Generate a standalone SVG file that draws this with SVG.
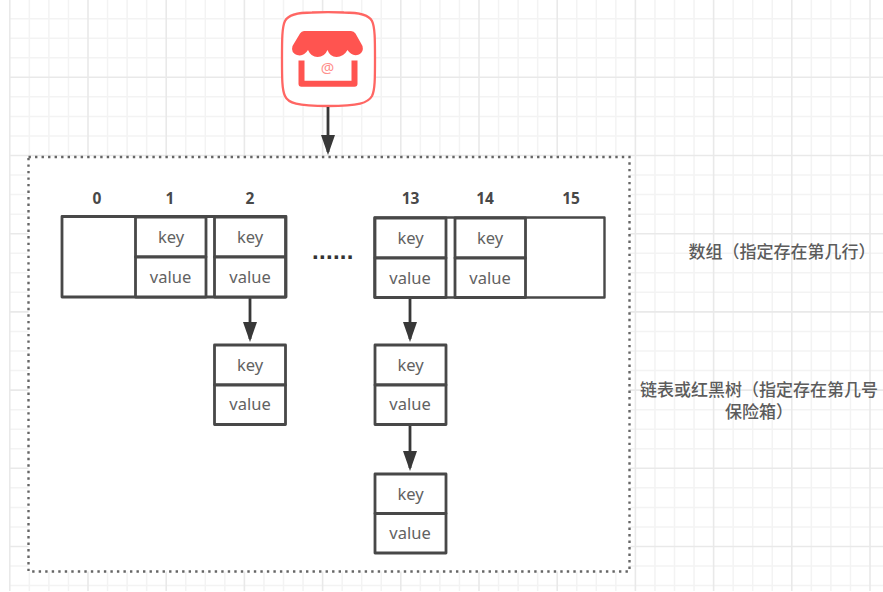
<svg xmlns="http://www.w3.org/2000/svg" width="883" height="592" viewBox="0 0 883 592">
  <style>
    .minor { fill: none; stroke: #f3f3f3; stroke-width: 1.5; }
    .major { fill: none; stroke: #e9e9e9; stroke-width: 1.6; }
    .frame { fill: #ffffff; stroke: #666666; stroke-width: 2.4; stroke-dasharray: 2.4 4.12; }
    .box { fill: #ffffff; stroke: #484848; stroke-width: 2.8; stroke-linejoin: round; }
    .bar { fill: #ffffff; stroke: #484848; stroke-linejoin: round; }
    .edge { fill: none; stroke: #383838; stroke-width: 2.8; marker-end: url(#head); }
    .label { font-family: "Noto Sans", "Noto Sans CJK SC", sans-serif; font-size: 16.5px; fill: #626262; text-anchor: middle; }
    .index { font-family: "Noto Sans", "Noto Sans CJK SC", sans-serif; font-size: 15.5px; font-weight: 700; fill: #484848; text-anchor: middle; }
    .note { font-family: "Noto Sans CJK SC", sans-serif; font-size: 17px; font-weight: 500; fill: #5c5c5c; }
    .shop { fill: #ff5450; }
  </style>
  <defs>
    <marker id="head" markerUnits="userSpaceOnUse" markerWidth="21" markerHeight="15" refX="17" refY="7.5" orient="auto">
      <path d="M0 0.5 L20 7.5 L0 14.5 Z" fill="#383838"/>
    </marker>
  </defs>

  <rect width="883" height="592" fill="#ffffff"/>

  <!-- background grid -->
  <g id="grid">
    <path class="minor" d="M29.35 0V591M48.9 0V591M68.45 0V591M107.55 0V591M127.1 0V591M146.65 0V591M185.75 0V591M205.3 0V591M224.85 0V591M263.95 0V591M283.5 0V591M303.05 0V591M342.15 0V591M361.7 0V591M381.25 0V591M420.35 0V591M439.9 0V591M459.45 0V591M498.55 0V591M518.1 0V591M537.65 0V591M576.75 0V591M596.3 0V591M615.85 0V591M654.95 0V591M674.5 0V591M694.05 0V591M733.15 0V591M752.7 0V591M772.25 0V591M811.35 0V591M830.9 0V591M850.45 0V591"/>
    <path class="minor" d="M9 18.65H883M9 38.2H883M9 57.75H883M9 96.85H883M9 116.4H883M9 135.95H883M9 175.05H883M9 194.6H883M9 214.15H883M9 253.25H883M9 272.8H883M9 292.35H883M9 331.45H883M9 351H883M9 370.55H883M9 409.65H883M9 429.2H883M9 448.75H883M9 487.85H883M9 507.4H883M9 526.95H883M9 566.05H883M9 585.6H883"/>
    <path class="major" d="M9.8 0V591M88 0V591M166.2 0V591M244.4 0V591M322.6 0V591M400.8 0V591M479 0V591M557.2 0V591M635.4 0V591M713.6 0V591M791.8 0V591M870 0V591"/>
    <path class="major" d="M9 77.3H883M9 155.5H883M9 233.7H883M9 311.9H883M9 390.1H883M9 468.3H883M9 546.5H883"/>
  </g>

  <!-- dotted container -->
  <g id="container">
    <rect class="frame" x="28.5" y="157" width="601" height="414.5"/>
  </g>

  <!-- shop icon -->
  <g id="shop">
    <path d="M312 12.5 C296 12.5 288 15 285 21 C282 27 282 40 282 59 C282 78 282 90 285 96 C288 103 297 106 328 106 C359 106 368 103 372 96 C375 90 375 78 375 59 C375 40 375 27 372 21 C369 15 360 12.5 344 12.5 C335 12 321 12 312 12.5 Z" fill="#ffffff" stroke="#ff6663" stroke-width="2.3"/>
    <path class="shop" d="M304 31 H351 Q354 31 355.5 33.5 L362.5 46 Q364 52 359 54.5 Q352 57 347.5 50 Q343.5 57 336.5 57 Q330 57 327.5 50 Q324.5 57 317.5 57 Q311 57 308 50 Q303.5 57 297 55 Q290.5 52.5 292.5 46 L300 33.5 Q301.5 31 304 31 Z"/>
    <path d="M301.5 60.5 V83.8 H354.5 V60.5" fill="none" stroke="#ff5450" stroke-width="6" stroke-linejoin="round"/>
    <text x="327.5" y="73" font-family="'Noto Sans', sans-serif" font-size="15" fill="#ff8f8c" text-anchor="middle">@</text>
  </g>

  <!-- connectors -->
  <g id="connectors">
    <path class="edge" d="M328 107V152"/>
    <path class="edge" d="M250 297V339"/>
    <path class="edge" d="M410 298V339"/>
    <path class="edge" d="M410 425V468"/>
  </g>

  <!-- left part of the array -->
  <g id="array-left">
    <rect class="bar" stroke-width="2.8" x="62" y="216.5" width="224" height="80.5"/>
  </g>
  <g id="slot-1">
    <rect class="box" x="135.5" y="217" width="70.5" height="40"/>
    <rect class="box" x="135.5" y="257" width="70.5" height="40"/>
    <text class="label" x="171" y="243">key</text>
    <text class="label" x="170.5" y="283">value</text>
  </g>
  <g id="slot-2">
    <rect class="box" x="214.5" y="217" width="71" height="40"/>
    <rect class="box" x="214.5" y="257" width="71" height="40"/>
    <text class="label" x="250" y="243">key</text>
    <text class="label" x="250" y="283">value</text>
  </g>

  <!-- right part of the array -->
  <g id="array-right">
    <rect class="bar" stroke-width="2.4" x="374.5" y="217.5" width="230" height="80"/>
  </g>
  <g id="slot-13">
    <rect class="box" x="375" y="218" width="71" height="40"/>
    <rect class="box" x="375" y="258" width="71" height="39.5"/>
    <text class="label" x="410.5" y="244">key</text>
    <text class="label" x="410" y="284">value</text>
  </g>
  <g id="slot-14">
    <rect class="box" x="455" y="218" width="70.5" height="40"/>
    <rect class="box" x="455" y="258" width="70.5" height="39.5"/>
    <text class="label" x="490" y="244">key</text>
    <text class="label" x="490" y="284">value</text>
  </g>

  <!-- chained entries -->
  <g id="chain-2-a">
    <rect class="box" x="214.5" y="345" width="71" height="40"/>
    <rect class="box" x="214.5" y="385" width="71" height="39.5"/>
    <text class="label" x="250" y="371">key</text>
    <text class="label" x="250" y="410">value</text>
  </g>
  <g id="chain-13-a">
    <rect class="box" x="375" y="345" width="71" height="40"/>
    <rect class="box" x="375" y="385" width="71" height="39.5"/>
    <text class="label" x="410.5" y="371">key</text>
    <text class="label" x="410" y="410">value</text>
  </g>
  <g id="chain-13-b">
    <rect class="box" x="375" y="474" width="71" height="39.5"/>
    <rect class="box" x="375" y="513.5" width="71" height="39.5"/>
    <text class="label" x="410.5" y="500">key</text>
    <text class="label" x="410" y="539">value</text>
  </g>

  <!-- indices -->
  <g id="indices">
    <text class="index" x="97" y="204">0</text>
    <text class="index" x="170" y="204">1</text>
    <text class="index" x="250" y="204">2</text>
    <text class="index" x="410.5" y="204">13</text>
    <text class="index" x="485" y="204">14</text>
    <text class="index" x="571" y="204">15</text>
  </g>

  <g id="ellipsis">
    <text x="312" y="258.5" font-family="'Liberation Sans', sans-serif" font-size="24" font-weight="700" letter-spacing="0.3" fill="#333333">......</text>
  </g>

  <!-- side notes -->
  <g id="note-array">
    <text class="note" x="688.5" y="258">数组（指定存在第几行）</text>
  </g>
  <g id="note-chain">
    <text class="note"><tspan x="640" y="396">链表或红黑树（指定存在第几号</tspan><tspan x="725" y="417.5">保险箱）</tspan></text>
  </g>
</svg>
